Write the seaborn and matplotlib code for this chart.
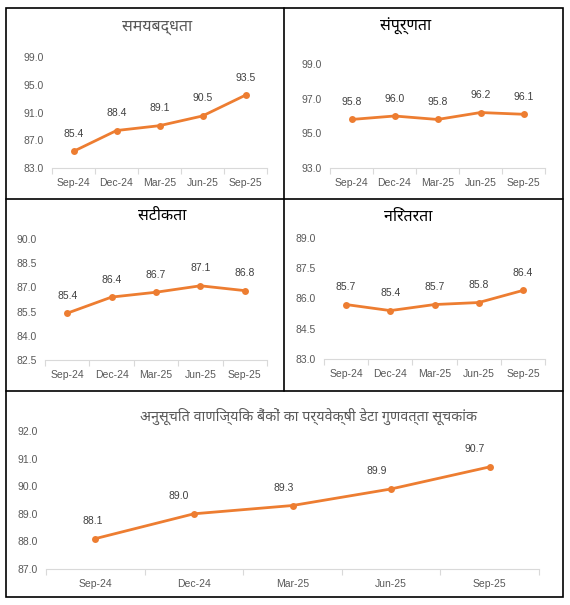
import matplotlib
matplotlib.use("Agg")
import matplotlib.pyplot as plt
from matplotlib.patches import Rectangle
from matplotlib.lines import Line2D
import seaborn as sns
import numpy as np

sns.set_style("white")
plt.rcParams['font.family'] = ['Liberation Sans', 'Noto Sans Devanagari']

# data
quarters = ["Sep-24", "Dec-24", "Mar-25", "Jun-25", "Sep-25"]
timeliness = [85.4, 88.4, 89.1, 90.5, 93.5]
completeness = [95.8, 96.0, 95.8, 96.2, 96.1]
accuracy = [85.4, 86.4, 86.7, 87.1, 86.8]
continuity = [85.7, 85.4, 85.7, 85.8, 86.4]
sdqi = [88.1, 89.0, 89.3, 89.9, 90.7]

titles = ["समयबद्धता", "संपूर्णता", "सटीकता", "निरंतरता",
          "अनुसूचित वाणिज्यिक बैंकों का पर्यवेक्षी डेटा गुणवत्ता सूचकांक"]

W, H = 570, 605
ORANGE = "#ED7D31"
GREY = "#595959"

fig = plt.figure(figsize=(W / 100, H / 100), dpi=100)


def px(x0, y0, x1, y1):
    # pixel box (left, top, right, bottom) -> figure fraction rect
    return [x0 / W, 1 - y1 / H, (x1 - x0) / W, (y1 - y0) / H]


def panel(box, values, yticks, title, tpos, tcolor="black", tsize=11.5,
          lab_dx=None):
    ax = fig.add_axes(px(*box))
    sns.lineplot(x=np.arange(len(quarters)), y=values, ax=ax, color=ORANGE,
                 linewidth=2, marker="o", markersize=5, markeredgewidth=0)
    ax.set_xlim(-0.5, len(quarters) - 0.5)
    ax.set_ylim(yticks[0], yticks[-1])
    ax.set_yticks(yticks)
    ax.set_yticklabels([f"{t:.1f}" for t in yticks])
    ax.set_xticks(range(len(quarters)))
    ax.set_xticklabels(quarters)
    ax.set_xticks(np.arange(-0.5, len(quarters)), minor=True)
    ax.tick_params(axis="x", which="major", length=0, pad=7,
                   labelsize=7.5, labelcolor=GREY)
    ax.tick_params(axis="x", which="minor", length=4, color="#D9D9D9",
                   width=0.8, direction="out", bottom=True)
    ax.tick_params(axis="y", length=0, pad=6, labelsize=7.5, labelcolor=GREY)
    for s in ["top", "right", "left"]:
        ax.spines[s].set_visible(False)
    ax.spines["bottom"].set_color("#D9D9D9")
    ax.spines["bottom"].set_linewidth(0.8)
    ax.set_xlabel("")
    ax.set_ylabel("")
    ax.patch.set_alpha(0)
    for i, v in enumerate(values):
        dx = lab_dx[i] if lab_dx else 0
        ax.annotate(f"{v:.1f}", (i, v), xytext=(dx * 0.72, 9),
                    textcoords="offset points", ha="center", va="bottom",
                    fontsize=7.5, color="#404040")
    fig.text(tpos[0] / W, 1 - tpos[1] / H, title, ha="center", va="center",
             family=["Noto Sans Devanagari", "Liberation Sans"],
             fontsize=tsize, color=tcolor)
    return ax


panel((52, 57, 267, 168), timeliness, [83, 87, 91, 95, 99], titles[0],
      (157, 27), tcolor=GREY)
panel((330, 64, 545, 168), completeness, [93, 95, 97, 99], titles[1],
      (406, 26))
panel((45, 239, 267, 360), accuracy, [82.5, 84, 85.5, 87, 88.5, 90],
      titles[2], (162, 216))
panel((324, 238, 545, 359), continuity, [83, 84.5, 86, 87.5, 89],
      titles[3], (408, 217))
panel((46, 431, 539, 569), sdqi, [87, 88, 89, 90, 91, 92], titles[4],
      (308, 416), tcolor=GREY, tsize=10.3, lab_dx=[-3, -15, -9, -14, -15])

# panel borders
fig.add_artist(Rectangle((6 / W, 1 - 597 / H), (563 - 6) / W, (597 - 8) / H,
                         transform=fig.transFigure, fill=False,
                         edgecolor="black", linewidth=1.2))
for y in (199, 391):
    fig.add_artist(Line2D([6 / W, 563 / W], [1 - y / H] * 2,
                          transform=fig.transFigure, color="black", linewidth=1.2))
fig.add_artist(Line2D([284 / W] * 2, [1 - 8 / H, 1 - 391 / H],
                      transform=fig.transFigure, color="black", linewidth=1.2))

fig.savefig("out.png", dpi=100)
